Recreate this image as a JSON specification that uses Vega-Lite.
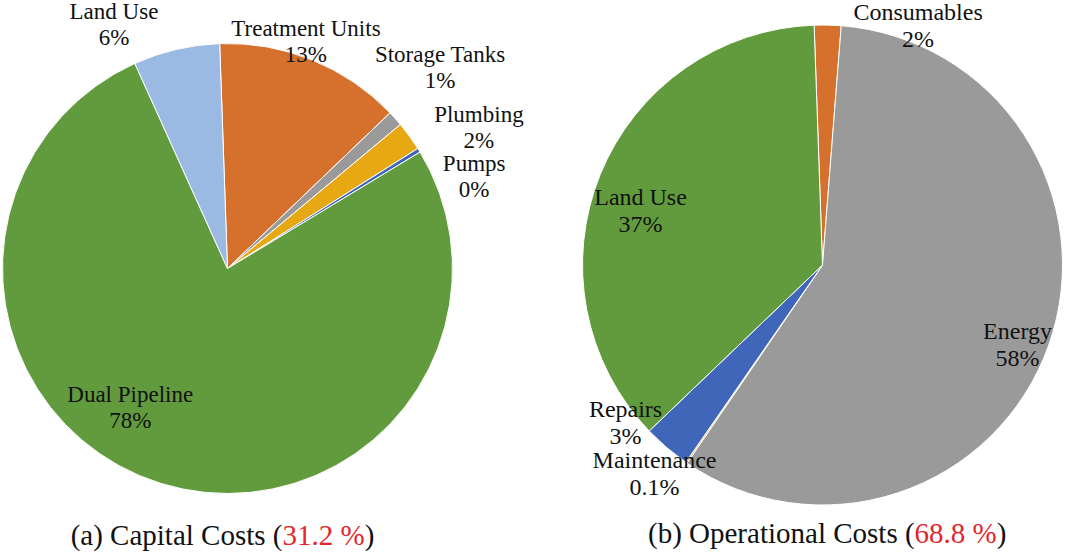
{
  "$schema": "https://vega.github.io/schema/vega-lite/v6.json",
  "padding": 0,
  "background": "white",
  "spacing": 112,
  "bounds": "flush",
  "config": {"view": {"stroke": null}, "font": "Liberation Serif", "text": {"font": "Liberation Serif"}},
  "resolve": {"scale": {"color": "independent", "theta": "independent", "x": "independent", "y": "independent"}},
  "hconcat": [
    {
      "width": 453,
      "height": 537,
      "layer": [
        {
          "data": {"values": [
            {"name": "Treatment Units", "value": 13.4, "idx": 1, "label": "Treatment Units\n13%"},
            {"name": "Storage Tanks", "value": 1.1, "idx": 2, "label": "Storage Tanks\n1%"},
            {"name": "Plumbing", "value": 2.1, "idx": 3, "label": "Plumbing\n2%"},
            {"name": "Pumps", "value": 0.3, "idx": 4, "label": "Pumps\n0%"},
            {"name": "Dual Pipeline", "value": 76.9, "idx": 5, "label": "Dual Pipeline\n78%"},
            {"name": "Land Use", "value": 6.2, "idx": 6, "label": "Land Use\n6%"}
          ]},
          "layer": [
            {
              "mark": {"type": "arc", "outerRadius": 225, "stroke": "white", "strokeWidth": 1},
              "encoding": {
                "theta": {"field": "value", "type": "quantitative", "stack": true, "scale": {"range": [-0.0349, 6.2483]}},
                "order": {"field": "idx", "type": "quantitative"},
                "color": {"field": "name", "type": "nominal", "legend": null,
                  "scale": {"domain": ["Treatment Units", "Storage Tanks", "Plumbing", "Pumps", "Dual Pipeline", "Land Use"],
                            "range": ["#D5702D", "#9A9A9A", "#E6A913", "#3F66B8", "#629B3E", "#9ABAE3"]}}
              }
            },
            {
              "transform": [
                {"stack": "value", "groupby": [], "sort": [{"field": "idx", "order": "ascending"}], "as": ["t0", "t1"]},
                {"filter": "datum.name === 'Treatment Units'"}
              ],
              "mark": {"type": "text", "radius": 239.7, "thetaOffset": 0.3683, "dy": -13, "fontSize": 23, "lineHeight": 26, "lineBreak": "\n", "align": "center", "baseline": "middle", "fill": "#111111"},
              "encoding": {"theta": {"field": "t0", "type": "quantitative", "stack": null}, "text": {"field": "label"}}
            },
            {
              "transform": [
                {"stack": "value", "groupby": [], "sort": [{"field": "idx", "order": "ascending"}], "as": ["t0", "t1"]},
                {"filter": "datum.name === 'Storage Tanks'"}
              ],
              "mark": {"type": "text", "radius": 292.5, "thetaOffset": 0.0063, "dy": -13, "fontSize": 23, "lineHeight": 26, "lineBreak": "\n", "align": "center", "baseline": "middle", "fill": "#111111"},
              "encoding": {"theta": {"field": "t0", "type": "quantitative", "stack": null}, "text": {"field": "label"}}
            },
            {
              "transform": [
                {"stack": "value", "groupby": [], "sort": [{"field": "idx", "order": "ascending"}], "as": ["t0", "t1"]},
                {"filter": "datum.name === 'Plumbing'"}
              ],
              "mark": {"type": "text", "radius": 288, "thetaOffset": 0.185, "dy": -13, "fontSize": 23, "lineHeight": 26, "lineBreak": "\n", "align": "center", "baseline": "middle", "fill": "#111111"},
              "encoding": {"theta": {"field": "t0", "type": "quantitative", "stack": null}, "text": {"field": "label"}}
            },
            {
              "transform": [
                {"stack": "value", "groupby": [], "sort": [{"field": "idx", "order": "ascending"}], "as": ["t0", "t1"]},
                {"filter": "datum.name === 'Pumps'"}
              ],
              "mark": {"type": "text", "radius": 263, "thetaOffset": 0.2084, "dy": -13, "fontSize": 23, "lineHeight": 26, "lineBreak": "\n", "align": "center", "baseline": "middle", "fill": "#111111"},
              "encoding": {"theta": {"field": "t0", "type": "quantitative", "stack": null}, "text": {"field": "label"}}
            },
            {
              "transform": [
                {"stack": "value", "groupby": [], "sort": [{"field": "idx", "order": "ascending"}], "as": ["t0", "t1"]},
                {"filter": "datum.name === 'Dual Pipeline'"}
              ],
              "mark": {"type": "text", "radius": 170, "thetaOffset": 2.7238, "dy": -13, "fontSize": 23, "lineHeight": 26, "lineBreak": "\n", "align": "center", "baseline": "middle", "fill": "#111111"},
              "encoding": {"theta": {"field": "t0", "type": "quantitative", "stack": null}, "text": {"field": "label"}}
            },
            {
              "transform": [
                {"stack": "value", "groupby": [], "sort": [{"field": "idx", "order": "ascending"}], "as": ["t0", "t1"]},
                {"filter": "datum.name === 'Land Use'"}
              ],
              "mark": {"type": "text", "radius": 268.7, "thetaOffset": -0.0118, "dy": -13, "fontSize": 23, "lineHeight": 26, "lineBreak": "\n", "align": "center", "baseline": "middle", "fill": "#111111"},
              "encoding": {"theta": {"field": "t0", "type": "quantitative", "stack": null}, "text": {"field": "label"}}
            }
          ]
        },
        {
          "data": {"values": [{"lead": "(a) Capital Costs (", "share": "31.2 %", "close": ")"}]},
          "encoding": {
            "y": {"datum": 0, "type": "quantitative", "scale": {"domain": [0, 1]}, "axis": null}
          },
          "layer": [
            {"mark": {"type": "text", "align": "right", "baseline": "alphabetic", "fontSize": 29, "dy": 8, "fill": "#111111"},
             "encoding": {"x": {"datum": 0.6214, "type": "quantitative", "scale": {"domain": [0, 1]}, "axis": null}, "text": {"field": "lead"}}},
            {"mark": {"type": "text", "align": "left", "baseline": "alphabetic", "fontSize": 29, "dy": 8, "fill": "#E3262B"},
             "encoding": {"x": {"datum": 0.6214, "type": "quantitative", "scale": {"domain": [0, 1]}, "axis": null}, "text": {"field": "share"}}},
            {"mark": {"type": "text", "align": "left", "baseline": "alphabetic", "fontSize": 29, "dy": 8, "fill": "#111111"},
             "encoding": {"x": {"datum": 0.8028, "type": "quantitative", "scale": {"domain": [0, 1]}, "axis": null}, "text": {"field": "close"}}}
          ]
        }
      ]
    },
    {
      "width": 513,
      "height": 530,
      "layer": [
        {
          "data": {"values": [
            {"name": "Consumables", "value": 1.8, "idx": 1, "label": "Consumables\n2%"},
            {"name": "Energy", "value": 58.3, "idx": 2, "label": "Energy\n58%"},
            {"name": "Maintenance", "value": 0.1, "idx": 3, "label": "Maintenance\n0.1%"},
            {"name": "Repairs", "value": 3.2, "idx": 4, "label": "Repairs\n3%"},
            {"name": "Land Use", "value": 36.6, "idx": 5, "label": "Land Use\n37%"}
          ]},
          "layer": [
            {
              "mark": {"type": "arc", "outerRadius": 240, "stroke": "white", "strokeWidth": 1},
              "encoding": {
                "theta": {"field": "value", "type": "quantitative", "stack": true, "scale": {"range": [-0.0349, 6.2483]}},
                "order": {"field": "idx", "type": "quantitative"},
                "color": {"field": "name", "type": "nominal", "legend": null,
                  "scale": {"domain": ["Consumables", "Energy", "Maintenance", "Repairs", "Land Use"],
                            "range": ["#D5702D", "#9A9A9A", "#E6A913", "#3F66B8", "#629B3E"]}}
              }
            },
            {
              "transform": [
                {"stack": "value", "groupby": [], "sort": [{"field": "idx", "order": "ascending"}], "as": ["t0", "t1"]},
                {"filter": "datum.name === 'Consumables'"}
              ],
              "mark": {"type": "text", "radius": 257, "thetaOffset": 0.416, "dy": -13.5, "fontSize": 24, "lineHeight": 27, "lineBreak": "\n", "align": "center", "baseline": "middle", "fill": "#111111"},
              "encoding": {"theta": {"field": "t0", "type": "quantitative", "stack": null}, "text": {"field": "label"}}
            },
            {
              "transform": [
                {"stack": "value", "groupby": [], "sort": [{"field": "idx", "order": "ascending"}], "as": ["t0", "t1"]},
                {"filter": "datum.name === 'Energy'"}
              ],
              "mark": {"type": "text", "radius": 211.2, "thetaOffset": 1.8862, "dy": -13.5, "fontSize": 24, "lineHeight": 27, "lineBreak": "\n", "align": "center", "baseline": "middle", "fill": "#111111"},
              "encoding": {"theta": {"field": "t0", "type": "quantitative", "stack": null}, "text": {"field": "label"}}
            },
            {
              "transform": [
                {"stack": "value", "groupby": [], "sort": [{"field": "idx", "order": "ascending"}], "as": ["t0", "t1"]},
                {"filter": "datum.name === 'Maintenance'"}
              ],
              "mark": {"type": "text", "radius": 268.9, "thetaOffset": 0.075, "dy": -13.5, "fontSize": 24, "lineHeight": 27, "lineBreak": "\n", "align": "center", "baseline": "middle", "fill": "#111111"},
              "encoding": {"theta": {"field": "t0", "type": "quantitative", "stack": null}, "text": {"field": "label"}}
            },
            {
              "transform": [
                {"stack": "value", "groupby": [], "sort": [{"field": "idx", "order": "ascending"}], "as": ["t0", "t1"]},
                {"filter": "datum.name === 'Repairs'"}
              ],
              "mark": {"type": "text", "radius": 252.8, "thetaOffset": 0.2873, "dy": -13.5, "fontSize": 24, "lineHeight": 27, "lineBreak": "\n", "align": "center", "baseline": "middle", "fill": "#111111"},
              "encoding": {"theta": {"field": "t0", "type": "quantitative", "stack": null}, "text": {"field": "label"}}
            },
            {
              "transform": [
                {"stack": "value", "groupby": [], "sort": [{"field": "idx", "order": "ascending"}], "as": ["t0", "t1"]},
                {"filter": "datum.name === 'Land Use'"}
              ],
              "mark": {"type": "text", "radius": 189.8, "thetaOffset": 1.0522, "dy": -13.5, "fontSize": 24, "lineHeight": 27, "lineBreak": "\n", "align": "center", "baseline": "middle", "fill": "#111111"},
              "encoding": {"theta": {"field": "t0", "type": "quantitative", "stack": null}, "text": {"field": "label"}}
            }
          ]
        },
        {
          "data": {"values": [{"lead": "(b) Operational Costs (", "share": "68.8 %", "close": ")"}]},
          "encoding": {
            "y": {"datum": 0, "type": "quantitative", "scale": {"domain": [0, 1]}, "axis": null}
          },
          "layer": [
            {"mark": {"type": "text", "align": "right", "baseline": "alphabetic", "fontSize": 29, "dy": 13, "fill": "#111111"},
             "encoding": {"x": {"datum": 0.6795, "type": "quantitative", "scale": {"domain": [0, 1]}, "axis": null}, "text": {"field": "lead"}}},
            {"mark": {"type": "text", "align": "left", "baseline": "alphabetic", "fontSize": 29, "dy": 13, "fill": "#E3262B"},
             "encoding": {"x": {"datum": 0.6795, "type": "quantitative", "scale": {"domain": [0, 1]}, "axis": null}, "text": {"field": "share"}}},
            {"mark": {"type": "text", "align": "left", "baseline": "alphabetic", "fontSize": 29, "dy": 13, "fill": "#111111"},
             "encoding": {"x": {"datum": 0.8397, "type": "quantitative", "scale": {"domain": [0, 1]}, "axis": null}, "text": {"field": "close"}}}
          ]
        }
      ]
    }
  ]
}
